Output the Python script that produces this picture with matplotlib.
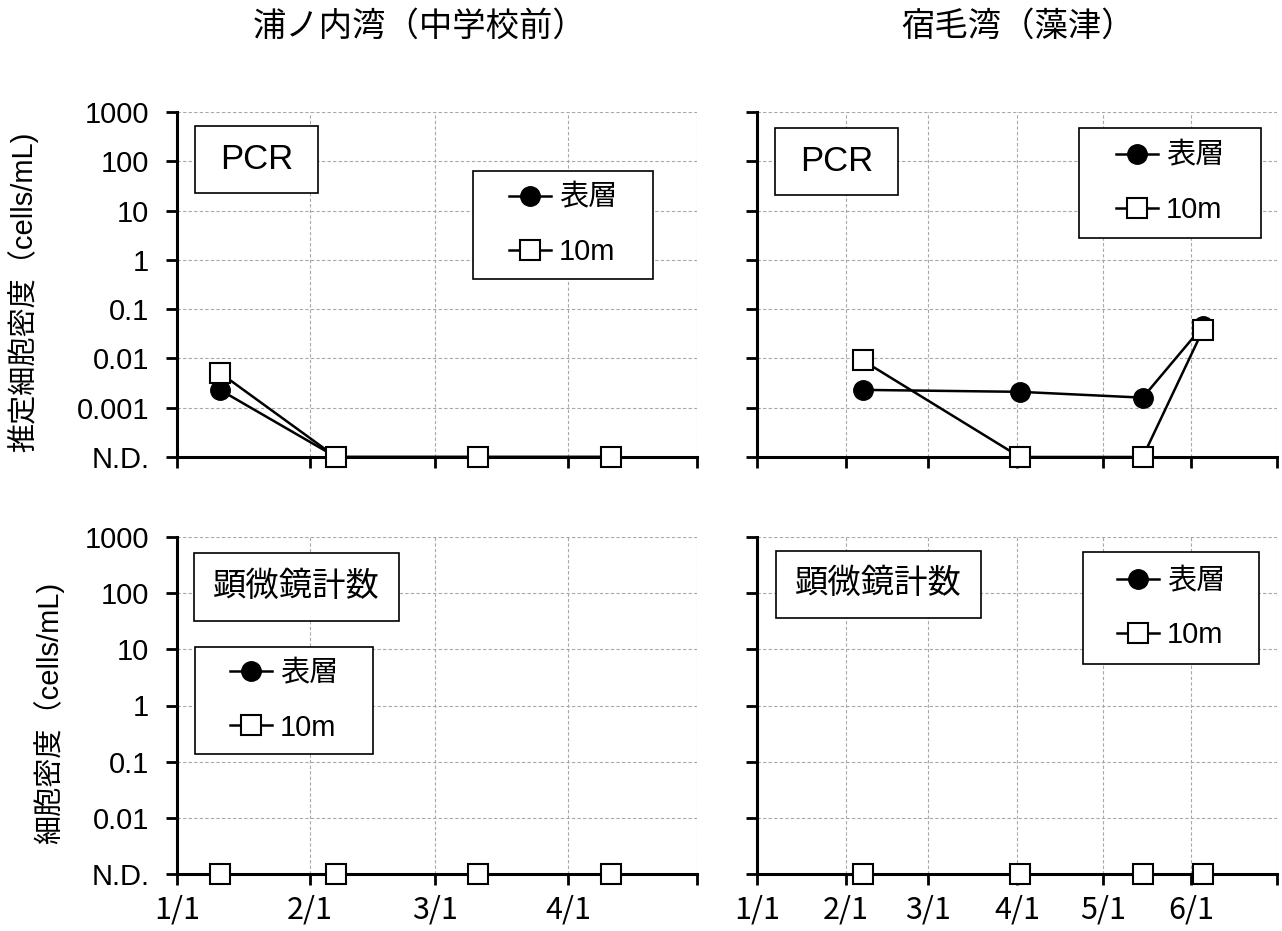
import matplotlib
matplotlib.use('Agg')
import matplotlib.pyplot as plt
from matplotlib.patches import Rectangle
import pandas as pd

plt.rcParams['font.family'] = ['Liberation Sans', 'Noto Sans CJK JP']

# 0 = N.D. (not detected) -> drawn on the bottom line of each panel
ND = 0

uranouchi_dates = ['2016-01-11', '2016-02-07', '2016-03-11', '2016-04-11']
sukumo_dates = ['2016-02-07', '2016-04-02', '2016-05-15', '2016-06-05']

uranouchi_pcr_surface = [0.0023, ND, ND, ND]
uranouchi_pcr_10m = [0.0051, ND, ND, ND]
sukumo_pcr_surface = [0.0023, 0.0021, 0.0016, 0.045]
sukumo_pcr_10m = [0.0091, ND, ND, 0.037]

uranouchi_micro_surface = [ND, ND, ND, ND]
uranouchi_micro_10m = [ND, ND, ND, ND]
sukumo_micro_surface = [ND, ND, ND, ND]
sukumo_micro_10m = [ND, ND, ND, ND]

series_names = ['表層', '10m']
titles = ['浦ノ内湾（中学校前）', '宿毛湾（藻津）']
ylabels = ['推定細胞密度（cells/mL)', '細胞密度（cells/mL)']
box_labels = ['PCR', '顕微鏡計数']

W, H = 1282, 931
fig = plt.figure(figsize=(W / 100, H / 100), dpi=100)


def fx(px):
    return px / W


def fy(py):
    return 1 - py / H


def panel(x0, x1, y0, y1, dates, surf, deep, nd, xend, show_xlab, show_ylab):
    ax = fig.add_axes([fx(x0), fy(y1), (x1 - x0) / W, (y1 - y0) / H])
    x = pd.to_datetime(dates)
    s = [v if v > 0 else nd for v in surf]
    d = [v if v > 0 else nd for v in deep]
    ax.plot(x, s, '-o', color='black', mfc='black', mec='black', ms=14,
            lw=1.8, label=series_names[0], clip_on=False, zorder=3)
    ax.plot(x, d, '-s', color='black', mfc='white', mec='black', ms=15,
            mew=1.5, lw=1.8, label=series_names[1], clip_on=False, zorder=4)
    ax.set_yscale('log')
    ax.set_ylim(nd, 1000)
    ax.set_xlim(pd.Timestamp('2016-01-01'), pd.Timestamp(xend))

    yt = [nd * 10 ** k for k in range(0, 8) if nd * 10 ** k <= 1000]
    ylab = ['N.D.'] + [('%g' % v) for v in yt[1:]]
    ax.set_yticks(yt)
    ax.minorticks_off()
    if show_ylab:
        ax.set_yticklabels(ylab, fontsize=21)
    else:
        ax.set_yticklabels([])

    xt = pd.date_range('2016-01-01', xend, freq='MS')
    ax.set_xticks(xt)
    xlab = ['%d/%d' % (t.month, t.day) for t in xt]
    xlab[-1] = ''
    if show_xlab:
        ax.set_xticklabels(xlab, fontsize=22, family='Noto Sans CJK JP')
    else:
        ax.set_xticklabels([])

    ax.grid(True, color='#a8a8a8', linestyle=(0, (3, 2)), lw=0.8)
    ax.set_axisbelow(True)
    for sp in ['top', 'right']:
        ax.spines[sp].set_visible(False)
    for sp in ['left', 'bottom']:
        ax.spines[sp].set_linewidth(2.2)
    ax.tick_params(axis='y', direction='out', length=8, width=2, pad=12)
    ax.tick_params(axis='x', direction='out', length=8, width=2, pad=7)
    return ax


def framed(x0, x1, y0, y1):
    r = Rectangle((fx(x0), fy(y1)), (x1 - x0) / W, (y1 - y0) / H,
                  transform=fig.transFigure, facecolor='white',
                  edgecolor='black', lw=1.2, zorder=2)
    fig.add_artist(r)
    return (fx((x0 + x1) / 2), fy((y0 + y1) / 2))


def legend_box(ax, x0, x1, y0, y1):
    c = framed(x0, x1, y0, y1)
    h, l = ax.get_legend_handles_labels()
    leg = fig.legend(h, l, loc='center', bbox_to_anchor=c,
                     bbox_transform=fig.transFigure, frameon=False,
                     fontsize=21, handlelength=1.45, handletextpad=0.25,
                     labelspacing=0.9)
    leg.set_zorder(3)


def text_box(label, x0, x1, y0, y1, size):
    c = framed(x0, x1, y0, y1)
    fig.text(c[0], c[1], label, ha='center', va='center', fontsize=size,
             zorder=3)


ax1 = panel(177, 697, 112, 457, uranouchi_dates, uranouchi_pcr_surface,
            uranouchi_pcr_10m, 1e-4, '2016-05-01', False, True)
ax2 = panel(757, 1277, 112, 457, sukumo_dates, sukumo_pcr_surface,
            sukumo_pcr_10m, 1e-4, '2016-07-01', False, False)
ax3 = panel(177, 697, 537, 874, uranouchi_dates, uranouchi_micro_surface,
            uranouchi_micro_10m, 1e-3, '2016-05-01', True, True)
ax4 = panel(757, 1277, 537, 874, sukumo_dates, sukumo_micro_surface,
            sukumo_micro_10m, 1e-3, '2016-07-01', True, False)

text_box(box_labels[0], 195, 318, 126, 193, 25)
text_box(box_labels[0], 775, 898, 128, 195, 25)
text_box(box_labels[1], 194, 399, 553, 621, 24)
text_box(box_labels[1], 776, 981, 551, 618, 24)

legend_box(ax1, 473, 653, 171, 279)
legend_box(ax2, 1079, 1261, 128, 238)
legend_box(ax3, 195, 373, 647, 754)
legend_box(ax4, 1083, 1259, 552, 664)

fig.text(fx(420), fy(27), titles[0], ha='center', va='center', fontsize=24)
fig.text(fx(1018), fy(27), titles[1], ha='center', va='center', fontsize=24)
fig.text(fx(23), fy(292), ylabels[0], ha='center', va='center',
         rotation=90, fontsize=21)
fig.text(fx(49), fy(713), ylabels[1], ha='center', va='center',
         rotation=90, fontsize=21)

fig.savefig('out.png', dpi=100)
